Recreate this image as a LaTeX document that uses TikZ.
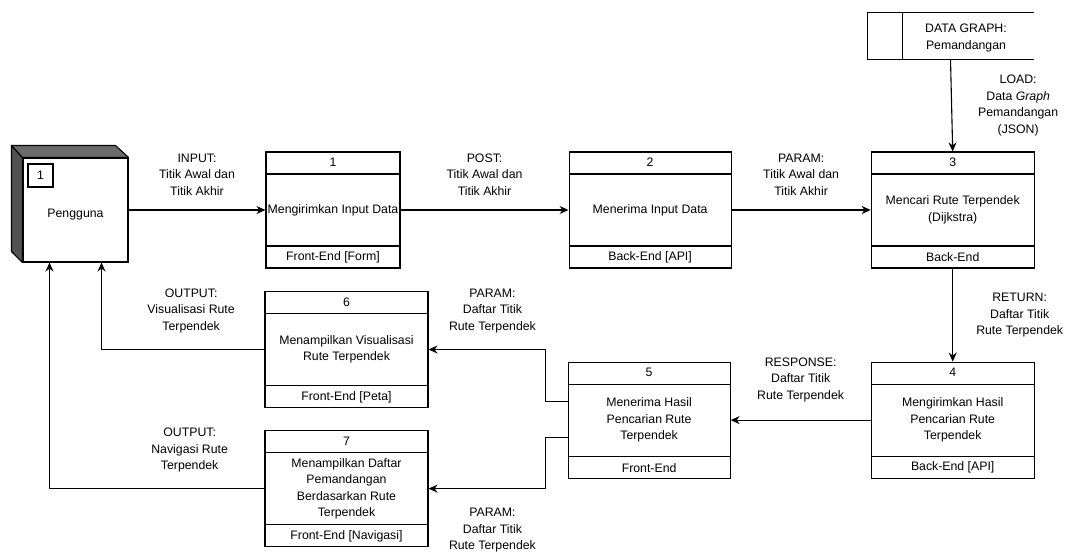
\documentclass[tikz,border=0pt]{standalone}
\usepackage{fontspec}
\setmainfont{Liberation Sans}
\usetikzlibrary{
    arrows.meta,
    positioning
}
\tikzset{
  proc/.style  = {draw, line width=1.1pt, minimum width=#1, minimum height=116pt,
                  inner sep=1pt, align=center,
                  path picture={
                    \draw[line width=1.1pt]
                      ([yshift=-22pt]path picture bounding box.north west) --
                      ([yshift=-22pt]path picture bounding box.north east)
                      ([yshift=22pt]path picture bounding box.south west) --
                      ([yshift=22pt]path picture bounding box.south east);}},
  ptxt/.style  = {inner sep=0pt},
  lbl/.style   = {align=center, inner sep=0pt},
  arr/.style   = {-{Stealth[length=9pt, width=8pt]}, line width=1.1pt}
}
\colorlet{cubeside}{black!68}
\colorlet{cubetop}{black!58}

\begin{document}
\begin{tikzpicture}[x=1pt, y=-1pt, font=\fontsize{12.3}{16.5}\selectfont]
  \useasboundingbox (0,0) rectangle (1065,552);

  % -- PENGGUNA --
  \node[draw, line width=1.1pt, minimum width=105pt, minimum height=104pt] (user) at (75.5,210) {};
  \filldraw[fill=cubeside, line width=1.1pt, line join=round]
    (user.north west) -- ++(-11,-12) -- ++(0,106) -- (user.south west) -- cycle;
  \filldraw[fill=cubetop, line width=1.1pt, line join=round]
    (user.north west) -- ++(-11,-12) -- ++(104,0) -- (user.north east) -- cycle;
  \node[draw, line width=1.1pt, minimum width=25pt, minimum height=23pt, inner sep=0pt]
    (usernum) at (40.5,175.5) {1};
  \node (usertxt) at ([yshift=-5pt]user.center) {Pengguna};

  % -- DATA STORE --
  \node[minimum width=166pt, minimum height=46pt] (store) at (950.5,36) {};
  \draw[line width=1.1pt] (store.north east) -- (store.north west)
    -- (store.south west) -- (store.south east);
  \draw[line width=1.1pt] ([xshift=35pt]store.north west) -- ([xshift=35pt]store.south west);
  \node[lbl] (storetxt) at (966,38) {DATA GRAPH:\\Pemandangan};

  % -- PROSES --
  \node[proc=134pt] (b1) at (333,210) {Mengirimkan Input Data};
  \node[ptxt] (b1num)  at ([yshift=-11pt]b1.north) {1};
  \node[ptxt] (b1foot) at ([yshift=11pt]b1.south)  {Front-End [Form]};

  \node[proc=162pt, right=168pt of b1] (b2) {Menerima Input Data};
  \node[ptxt] (b2num)  at ([yshift=-11pt]b2.north) {2};
  \node[ptxt] (b2foot) at ([yshift=11pt]b2.south)  {Back-End [API]};

  \node[proc=163pt, right=139pt of b2] (b3) {Mencari Rute Terpendek\\(Dijkstra)};
  \node[ptxt] (b3num)  at ([yshift=-11pt]b3.north) {3};
  \node[ptxt] (b3foot) at ([yshift=11pt]b3.south)  {Back-End};

  \node[proc=163pt, below=93pt of b3] (b4) {Mengirimkan Hasil\\Pencarian Rute\\Terpendek};
  \node[ptxt] (b4num)  at ([yshift=-11pt]b4.north) {4};
  \node[ptxt] (b4foot) at ([yshift=11pt]b4.south)  {Back-End [API]};

  \node[proc=162pt, left=140pt of b4] (b5) {Menerima Hasil\\Pencarian Rute\\Terpendek};
  \node[ptxt] (b5num)  at ([yshift=-11pt]b5.north) {5};
  \node[ptxt] (b5foot) at ([yshift=11pt]b5.south)  {Front-End};

  \node[proc=163pt] (b6) at (346.5,349.5) {Menampilkan Visualisasi\\Rute Terpendek};
  \node[ptxt] (b6num)  at ([yshift=-11pt]b6.north) {6};
  \node[ptxt] (b6foot) at ([yshift=11pt]b6.south)  {Front-End [Peta]};

  \node[proc=163pt, below=22pt of b6] (b7) {Menampilkan Daftar\\Pemandangan\\Berdasarkan Rute\\Terpendek};
  \node[ptxt] (b7num)  at ([yshift=-11pt]b7.north) {7};
  \node[ptxt] (b7foot) at ([yshift=11pt]b7.south)  {Front-End [Navigasi]};

  % -- ALIRAN DATA --
  \draw[arr] (user.east) -- node[lbl, above=14pt] (lin)
    {INPUT:\\Titik Awal dan\\Titik Akhir} (b1.west);
  \draw[arr] (b1) -- node[lbl, above=14pt] (lpost)
    {POST:\\Titik Awal dan\\Titik Akhir} (b2);
  \draw[arr] (b2) -- node[lbl, above=14pt] (lparam)
    {PARAM:\\Titik Awal dan\\Titik Akhir} (b3);
  \draw[arr] (store.south) -- node[lbl, right=26pt] (lload)
    {LOAD:\\Data \textit{Graph}\\Pemandangan\\(JSON)} (b3.north);
  \draw[arr] (b3) -- node[lbl, right=23pt] (lreturn)
    {RETURN:\\Daftar Titik\\Rute Terpendek} (b4);
  \draw[arr] (b4) -- node[lbl, above=18pt] (lresp)
    {RESPONSE:\\Daftar Titik\\Rute Terpendek} (b5);
  \draw[arr] ([yshift=19pt]b5.west) -- ++(-22,0) |- node[lbl, above=16pt, pos=0.727] (lpeta)
    {PARAM:\\Daftar Titik\\Rute Terpendek} (b6.east);
  \draw[arr] ([yshift=-17pt]b5.west) -- ++(-22,0) |- node[lbl, below=19pt, pos=0.727] (lnav)
    {PARAM:\\Daftar Titik\\Rute Terpendek} (b7.east);
  \draw[arr] (b6.west) -| node[lbl, above=16pt, pos=0.225] (lout1)
    {OUTPUT:\\Visualisasi Rute\\Terpendek} ([xshift=26pt]user.south);
  \draw[arr] (b7.west) -| node[lbl, above=16pt, pos=0.174] (lout2)
    {OUTPUT:\\Navigasi Rute\\Terpendek} ([xshift=-26pt]user.south);
\end{tikzpicture}
\end{document}
